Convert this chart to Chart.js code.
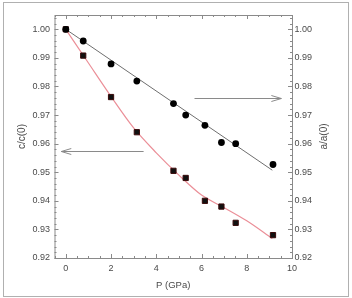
<!DOCTYPE html>
<html>
<head>
<meta charset="utf-8">
<script src="https://cdn.jsdelivr.net/npm/chart.js@4.4.0/dist/chart.umd.min.js"></script>
<style>
  html, body { margin: 0; padding: 0; background: #fff; }
  #wrap { width: 352px; height: 298px; position: relative; }
</style>
</head>
<body>
<div id="wrap"><canvas id="chart"></canvas></div>
<script>
// measured points
const pressure = [0, 0.77, 2.0, 3.14, 4.76, 5.3, 6.15, 6.88, 7.51, 9.16];
const aRatio = [1.000, 0.9959, 0.9879, 0.9819, 0.9740, 0.9700, 0.9664, 0.9604, 0.9600, 0.9527];
const cRatio = [1.000, 0.9908, 0.9763, 0.9640, 0.9505, 0.9480, 0.9400, 0.9380, 0.9323, 0.9280];

// fit curves
const aFitP = [0, 9.13];
const aFit = [1.000, 0.9507];
const cFitP = [0, 1, 2, 3, 4, 5, 6, 7, 8, 9.13];
const cFit = [1.000, 0.9882, 0.9765, 0.9655, 0.9568, 0.9490, 0.9420, 0.9376, 0.9330, 0.9268];

// arrows pointing at each axis: [x0, x1, y]
const arrowToC = [3.44, -0.2, 0.9574];
const arrowToA = [5.69, 9.53, 0.976];

const xTicks = [0, 2, 4, 6, 8, 10];
const yTicks = [0.92, 0.93, 0.94, 0.95, 0.96, 0.97, 0.98, 0.99, 1.00];

const FONT = '"Liberation Sans", Arial, sans-serif';
const GREY = '#8a8a8a';
const TEXT = '#4a4a4a';

const pts = (xs, ys) => xs.map((x, i) => ({ x, y: ys[i] }));

const decor = {
  id: 'decor',
  beforeDatasetsDraw(chart) {
    const { ctx, chartArea: a, scales: { x, y } } = chart;
    ctx.save();
    // outer frame
    ctx.strokeStyle = '#b0b0b0';
    ctx.lineWidth = 1;
    ctx.strokeRect(3.5, 2.5, 345, 294);
    // plot frame
    ctx.strokeStyle = GREY;
    ctx.strokeRect(a.left + 0.5, a.top + 0.5, a.right - a.left, a.bottom - a.top);
    // inward ticks
    ctx.beginPath();
    for (let v = -0.5; v <= 10.0001; v += 0.5) {
      const px = Math.round(x.getPixelForValue(v)) + 0.5;
      const len = Math.abs(v % 2) < 1e-6 ? 4 : 2;
      ctx.moveTo(px, a.bottom); ctx.lineTo(px, a.bottom - len);
      ctx.moveTo(px, a.top); ctx.lineTo(px, a.top + len);
    }
    for (let k = 0; k <= 42; k++) {
      const v = 0.92 + k * 0.002;
      const py = Math.round(y.getPixelForValue(v)) + 0.5;
      const len = k % 5 === 0 ? 4 : 2;
      ctx.moveTo(a.left, py); ctx.lineTo(a.left + len, py);
      ctx.moveTo(a.right, py); ctx.lineTo(a.right - len, py);
    }
    ctx.stroke();
    ctx.restore();
  },
  afterDatasetsDraw(chart) {
    const { ctx, chartArea: a, scales: { x, y } } = chart;
    ctx.save();
    ctx.strokeStyle = GREY;
    ctx.lineWidth = 1;
    [arrowToC, arrowToA].forEach(([x0, x1, yv]) => {
      const p0 = x.getPixelForValue(x0), p1 = x.getPixelForValue(x1);
      const py = Math.round(y.getPixelForValue(yv)) + 0.5;
      const dir = Math.sign(p1 - p0);
      ctx.beginPath();
      ctx.moveTo(p0, py); ctx.lineTo(p1, py);
      ctx.moveTo(p1 - dir * 10, py - 3); ctx.lineTo(p1, py); ctx.lineTo(p1 - dir * 10, py + 3);
      ctx.stroke();
    });
    // axis titles, both read bottom to top
    ctx.fillStyle = TEXT;
    ctx.font = '10px ' + FONT;
    ctx.textAlign = 'center';
    ctx.textBaseline = 'middle';
    const midY = (a.top + a.bottom) / 2;
    [[22, 'c/c(0)'], [324, 'a/a(0)']].forEach(([tx, t]) => {
      ctx.save();
      ctx.translate(tx, midY);
      ctx.rotate(-Math.PI / 2);
      ctx.fillText(t, 0, 0);
      ctx.restore();
    });
    ctx.font = '9.5px ' + FONT;
    ctx.fillText('P (GPa)', (a.left + a.right) / 2, 285);
    ctx.restore();
  }
};

new Chart(document.getElementById('chart'), {
  type: 'scatter',
  data: {
    datasets: [
      { label: 'a/a(0)', data: pts(pressure, aRatio), pointStyle: 'circle', pointRadius: 3.4,
        backgroundColor: '#000', borderColor: '#000', borderWidth: 0, yAxisID: 'y' },
      { label: 'c/c(0)', data: pts(pressure, cRatio), pointStyle: 'rect', pointRadius: 3.7,
        backgroundColor: '#111', borderColor: '#3a0a0a', borderWidth: 1, yAxisID: 'y' },
      { label: 'a fit', data: pts(aFitP, aFit), showLine: true, pointRadius: 0,
        borderColor: '#6e6e6e', borderWidth: 1, yAxisID: 'y' },
      { label: 'c fit', data: pts(cFitP, cFit), showLine: true, pointRadius: 0, tension: 0.4,
        cubicInterpolationMode: 'monotone', borderColor: '#eb8f98', borderWidth: 1.2, yAxisID: 'y' }
    ]
  },
  options: {
    responsive: true, maintainAspectRatio: false, animation: false,
    layout: { padding: { top: 15, left: 0, right: 0, bottom: 0 } },
    plugins: { legend: { display: false }, tooltip: { enabled: false } },
    scales: {
      x: {
        type: 'linear', min: -0.5, max: 10,
        grid: { display: false, drawTicks: false }, border: { display: false },
        afterBuildTicks: s => { s.ticks = xTicks.map(v => ({ value: v })); },
        afterFit: s => { s.height = 40; },
        ticks: { padding: 5, color: TEXT, font: { family: FONT, size: 9 }, callback: v => String(v) }
      },
      y: {
        type: 'linear', position: 'left', min: 0.92, max: 1.005,
        grid: { display: false, drawTicks: false }, border: { display: false },
        afterBuildTicks: s => { s.ticks = yTicks.map(v => ({ value: v })); },
        afterFit: s => { s.width = 54.5; },
        ticks: { padding: 4.5, color: TEXT, font: { family: FONT, size: 9 }, callback: v => v.toFixed(2) }
      },
      y2: {
        type: 'linear', position: 'right', min: 0.92, max: 1.005,
        grid: { display: false, drawTicks: false }, border: { display: false },
        afterBuildTicks: s => { s.ticks = yTicks.map(v => ({ value: v })); },
        afterFit: s => { s.width = 60; },
        ticks: { padding: 2.5, color: TEXT, font: { family: FONT, size: 9 }, callback: v => v.toFixed(2) }
      }
    }
  },
  plugins: [decor]
});
</script>
</body>
</html>
